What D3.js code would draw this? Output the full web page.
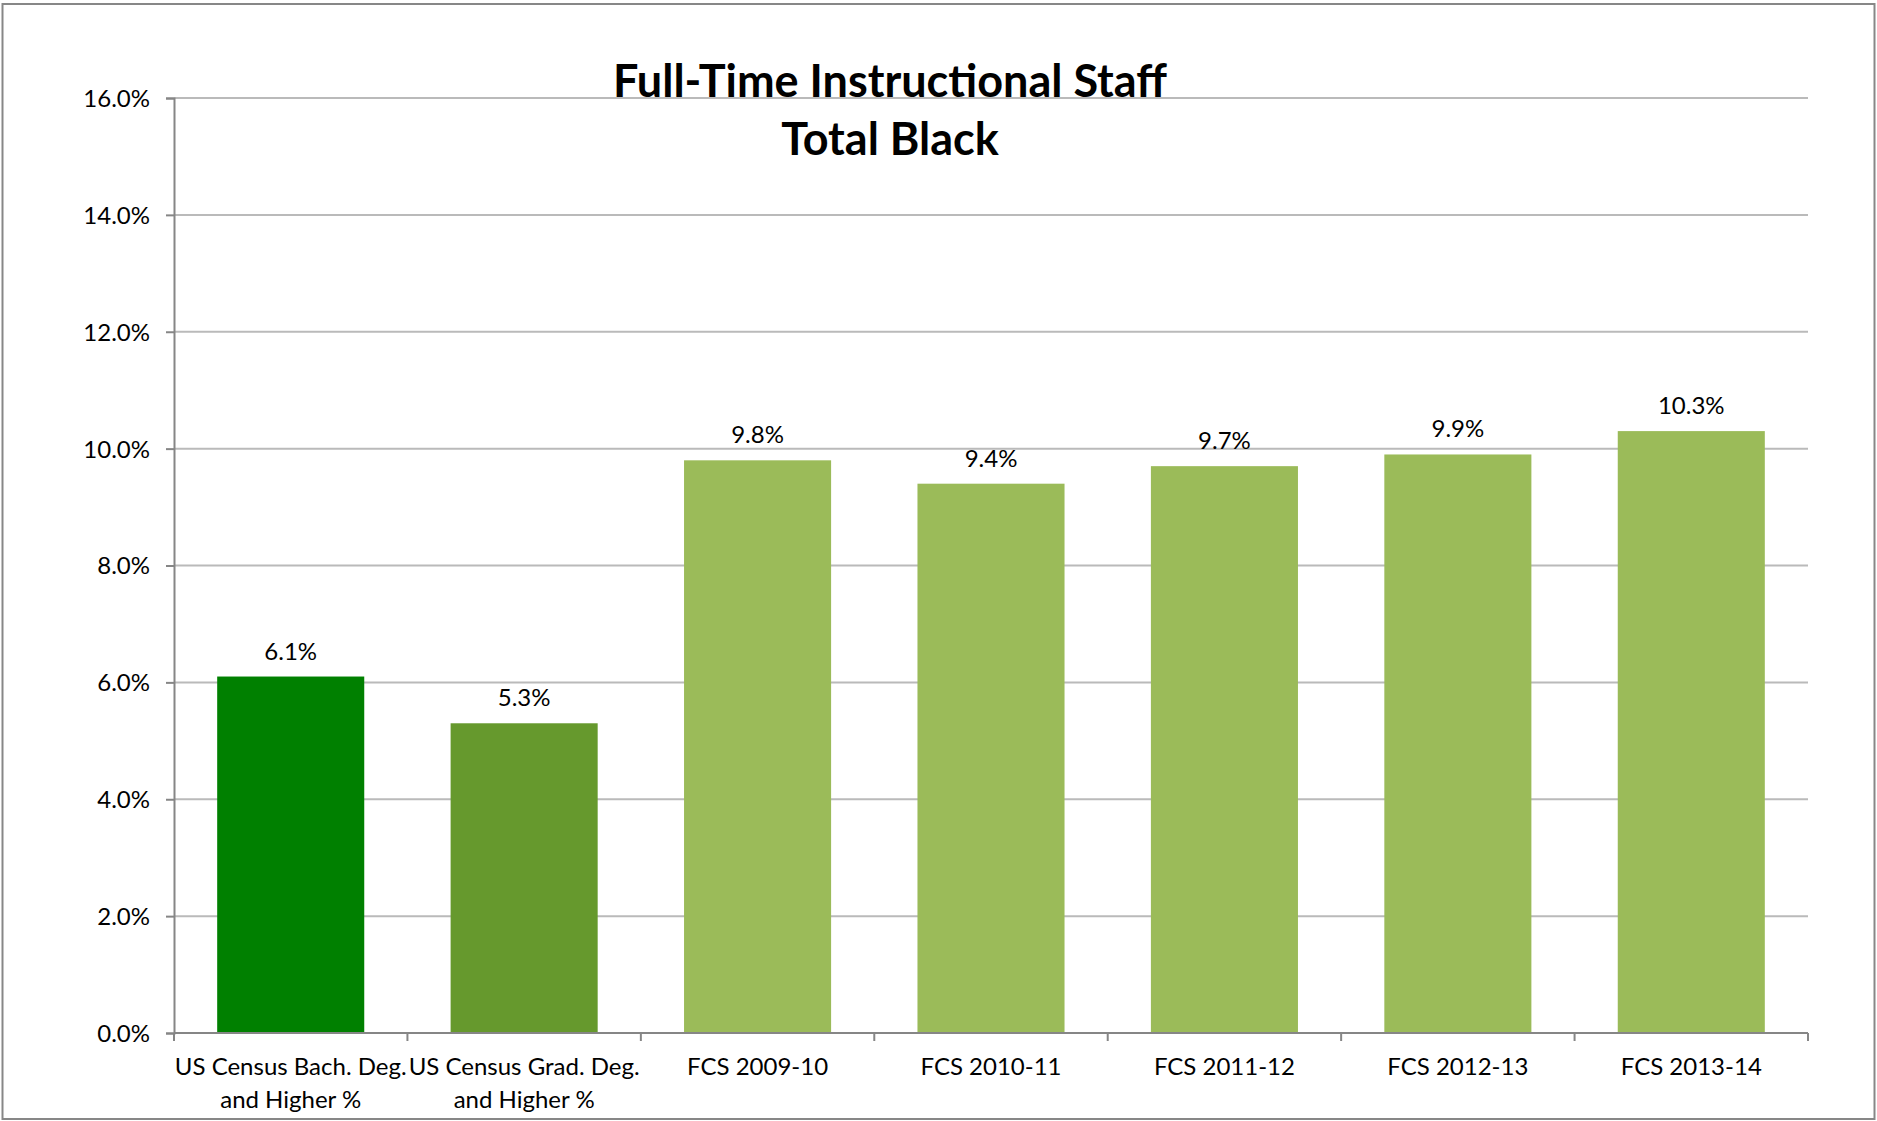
<!DOCTYPE html>
<html>
<head>
<meta charset="utf-8">
<script src="https://cdn.jsdelivr.net/npm/d3@7"></script>
<style>
  html, body { margin: 0; padding: 0; background: #fff; }
  svg { display: block; }
  text { font-family: Lato, "Open Sans", sans-serif; fill: #000; }
</style>
</head>
<body>
<script>
// ---- data ----
const categories = [
  "US Census Bach. Deg.|and Higher %",
  "US Census Grad. Deg.|and Higher %",
  "FCS 2009-10",
  "FCS 2010-11",
  "FCS 2011-12",
  "FCS 2012-13",
  "FCS 2013-14"
];
const values = [6.1, 5.3, 9.8, 9.4, 9.7, 9.9, 10.3];
const barColors = ["#008000", "#66992d", "#9bbb59", "#9bbb59", "#9bbb59", "#9bbb59", "#9bbb59"];
const yTicks = [0, 2, 4, 6, 8, 10, 12, 14, 16];
const titleLines = ["Full-Time Instructional Staff", "Total Black"];

// ---- layout ----
const W = 1877, H = 1121;
const plot = { left: 174, right: 1808, top: 98, bottom: 1033 };

const svg = d3.select("body").append("svg")
  .attr("width", W).attr("height", H);

svg.append("rect").attr("width", W).attr("height", H).attr("fill", "#fff");

// outer border
svg.append("rect")
  .attr("x", 2.5).attr("y", 4)
  .attr("width", 1872).attr("height", 1115)
  .attr("fill", "none").attr("stroke", "#878787").attr("stroke-width", 2);

const x = d3.scaleBand().domain(categories)
  .range([plot.left, plot.right])
  .paddingInner(0.37).paddingOuter(0.185);
const y = d3.scaleLinear().domain([0, 16]).range([plot.bottom, plot.top]);

// gridlines
svg.append("g").selectAll("line").data(yTicks.filter(d => d > 0)).join("line")
  .attr("x1", plot.left).attr("x2", plot.right)
  .attr("y1", d => y(d)).attr("y2", d => y(d))
  .attr("stroke", "#bababa").attr("stroke-width", 2);

// bars
svg.append("g").selectAll("rect").data(values).join("rect")
  .attr("x", (d, i) => x(categories[i]))
  .attr("width", x.bandwidth())
  .attr("y", d => y(d))
  .attr("height", d => y(0) - y(d))
  .attr("fill", (d, i) => barColors[i]);

// data labels
svg.append("g").selectAll("text").data(values).join("text")
  .attr("x", (d, i) => x(categories[i]) + x.bandwidth() / 2)
  .attr("y", d => y(d) - 17)
  .attr("text-anchor", "middle")
  .attr("font-size", 24)
  .text(d => d.toFixed(1) + "%");

// y axis
const yAxis = d3.axisLeft(y).tickValues(yTicks)
  .tickFormat(d => d.toFixed(1) + "%").tickSize(8).tickPadding(16);
const gy = svg.append("g").attr("transform", `translate(${plot.left},0)`).call(yAxis);
gy.select(".domain").attr("stroke", "#868686").attr("stroke-width", 2);
gy.selectAll(".tick line").attr("stroke", "#868686").attr("stroke-width", 2);
gy.selectAll(".tick text").attr("font-size", 24).attr("font-family", "Lato, sans-serif")
  .attr("fill", "#000").attr("dy", "0.35em");

// x axis
const xb = d3.scaleLinear().domain([0, categories.length]).range([plot.left, plot.right]);
const gx = svg.append("g").attr("transform", `translate(0,${plot.bottom})`);
gx.append("line").attr("x1", plot.left).attr("x2", plot.right)
  .attr("stroke", "#868686").attr("stroke-width", 2);
gx.selectAll("line.tk").data(d3.range(categories.length + 1)).join("line")
  .attr("class", "tk")
  .attr("x1", d => xb(d)).attr("x2", d => xb(d))
  .attr("y1", 0).attr("y2", 8)
  .attr("stroke", "#868686").attr("stroke-width", 2);
const xl = gx.selectAll("text").data(categories).join("text")
  .attr("x", d => x(d) + x.bandwidth() / 2)
  .attr("y", 42)
  .attr("text-anchor", "middle")
  .attr("font-size", 24);
xl.each(function(d) {
  const parts = d.split("|");
  const t = d3.select(this);
  parts.forEach((p, i) => {
    t.append("tspan").attr("x", x(d) + x.bandwidth() / 2)
      .attr("dy", i === 0 ? 0 : 33).text(p);
  });
});

// title
svg.append("g").selectAll("text").data(titleLines).join("text")
  .attr("x", 890).attr("y", (d, i) => 97 + i * 58)
  .attr("text-anchor", "middle")
  .attr("font-size", 45).attr("font-weight", "bold")
  .text(d => d);
</script>
</body>
</html>
